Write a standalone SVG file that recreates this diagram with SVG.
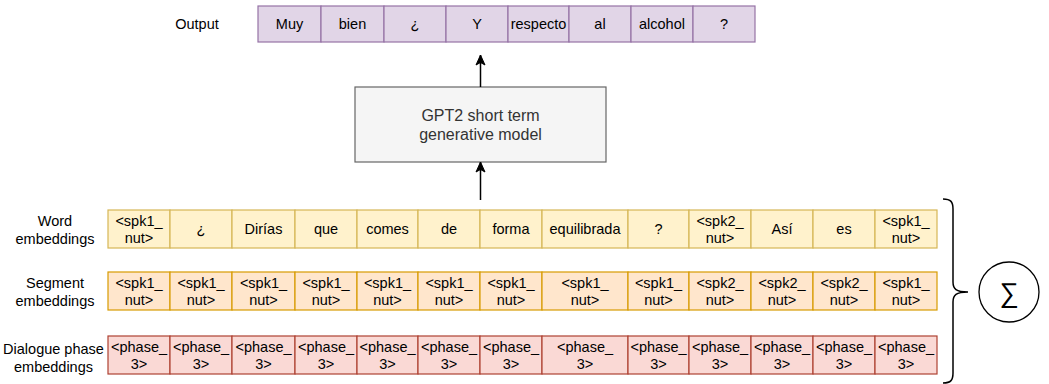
<svg xmlns="http://www.w3.org/2000/svg" width="1049" height="384" viewBox="0 0 1049 384">
<style>
text{font-family:"Liberation Sans",Arial,sans-serif;font-size:14.5px;fill:#000;text-anchor:middle}
.out{fill:#e1d5e7;stroke:#9673a6;stroke-width:1.2}
.w{fill:#fff2cc;stroke:#d6b656;stroke-width:1.2}
.s{fill:#ffe6cc;stroke:#d79b00;stroke-width:1.2}
.d{fill:#fad9d5;stroke:#ae4132;stroke-width:1.2}
.gpt{fill:#f5f5f5;stroke:#666666;stroke-width:1.2}
.gt{font-size:16px;fill:#333333}
.conn{stroke:#000;stroke-width:1.5;fill:none}
.lbl{text-anchor:middle}
</style>
<defs>
<marker id="arr" markerUnits="userSpaceOnUse" markerWidth="12" markerHeight="12" viewBox="0 0 12 12" refX="11" refY="6" orient="auto">
<path d="M1,1.5 L11,6 L1,10.5 L3.5,6 Z" fill="#000" stroke="#000" stroke-width="1"/>
</marker>
</defs>

<g id="output-label"><text x="197" y="29">Output</text></g>
<g id="output">
<rect class="out" x="258" y="6" width="63" height="36"/><text x="289.5" y="29">Muy</text>
<rect class="out" x="321" y="6" width="63" height="36"/><text x="352.5" y="29">bien</text>
<rect class="out" x="384" y="6" width="62" height="36"/><text x="415" y="29">¿</text>
<rect class="out" x="446" y="6" width="62" height="36"/><text x="477" y="29">Y</text>
<rect class="out" x="508" y="6" width="61" height="36"/><text x="538.5" y="29">respecto</text>
<rect class="out" x="569" y="6" width="62" height="36"/><text x="600" y="29">al</text>
<rect class="out" x="631" y="6" width="62" height="36"/><text x="662" y="29">alcohol</text>
<rect class="out" x="693" y="6" width="62" height="36"/><text x="724" y="29">?</text>
</g>

<g id="gpt2">
<rect class="gpt" x="355" y="87" width="251" height="75"/>
<text class="gt" x="480.5" y="121">GPT2 short term</text>
<text class="gt" x="480.5" y="140">generative model</text>
</g>

<g id="connectors">
<line class="conn" x1="480.5" y1="87" x2="480.5" y2="55" marker-end="url(#arr)"/>
<line class="conn" x1="480.5" y1="200" x2="480.5" y2="162" marker-end="url(#arr)"/>
<path class="conn" stroke-width="1.3" d="M943,199 C951,199 953,202 953,209 L953,282 C953,289 956,292 968,292 C956,292 953,295 953,302 L953,373 C953,380 951,383 943,383"/>
</g>

<g id="word-label"><text x="55" y="226">Word</text><text x="55" y="244">embeddings</text></g>
<g id="word-embeddings">
<rect class="w" x="108" y="210" width="62" height="38"/><text x="139" y="225.5">&lt;spk1_</text><text x="139" y="242.5">nut&gt;</text>
<rect class="w" x="170" y="210" width="62" height="38"/><text x="201" y="234">¿</text>
<rect class="w" x="232" y="210" width="63" height="38"/><text x="263.5" y="234">Dirías</text>
<rect class="w" x="295" y="210" width="62" height="38"/><text x="326" y="234">que</text>
<rect class="w" x="357" y="210" width="61" height="38"/><text x="387.5" y="234">comes</text>
<rect class="w" x="418" y="210" width="62" height="38"/><text x="449" y="234">de</text>
<rect class="w" x="480" y="210" width="62" height="38"/><text x="511" y="234">forma</text>
<rect class="w" x="542" y="210" width="86" height="38"/><text x="585" y="234">equilibrada</text>
<rect class="w" x="628" y="210" width="61" height="38"/><text x="658.5" y="234">?</text>
<rect class="w" x="689" y="210" width="62" height="38"/><text x="720" y="225.5">&lt;spk2_</text><text x="720" y="242.5">nut&gt;</text>
<rect class="w" x="751" y="210" width="62" height="38"/><text x="782" y="234">Así</text>
<rect class="w" x="813" y="210" width="62" height="38"/><text x="844" y="234">es</text>
<rect class="w" x="875" y="210" width="62" height="38"/><text x="906" y="225.5">&lt;spk1_</text><text x="906" y="242.5">nut&gt;</text>
</g>

<g id="segment-label"><text x="55" y="288">Segment</text><text x="55" y="306">embeddings</text></g>
<g id="segment-embeddings">
<rect class="s" x="108" y="272" width="62" height="38"/><text x="139" y="287.5">&lt;spk1_</text><text x="139" y="304.5">nut&gt;</text>
<rect class="s" x="170" y="272" width="62" height="38"/><text x="201" y="287.5">&lt;spk1_</text><text x="201" y="304.5">nut&gt;</text>
<rect class="s" x="232" y="272" width="63" height="38"/><text x="263.5" y="287.5">&lt;spk1_</text><text x="263.5" y="304.5">nut&gt;</text>
<rect class="s" x="295" y="272" width="62" height="38"/><text x="326" y="287.5">&lt;spk1_</text><text x="326" y="304.5">nut&gt;</text>
<rect class="s" x="357" y="272" width="61" height="38"/><text x="387.5" y="287.5">&lt;spk1_</text><text x="387.5" y="304.5">nut&gt;</text>
<rect class="s" x="418" y="272" width="62" height="38"/><text x="449" y="287.5">&lt;spk1_</text><text x="449" y="304.5">nut&gt;</text>
<rect class="s" x="480" y="272" width="62" height="38"/><text x="511" y="287.5">&lt;spk1_</text><text x="511" y="304.5">nut&gt;</text>
<rect class="s" x="542" y="272" width="86" height="38"/><text x="585" y="287.5">&lt;spk1_</text><text x="585" y="304.5">nut&gt;</text>
<rect class="s" x="628" y="272" width="61" height="38"/><text x="658.5" y="287.5">&lt;spk1_</text><text x="658.5" y="304.5">nut&gt;</text>
<rect class="s" x="689" y="272" width="62" height="38"/><text x="720" y="287.5">&lt;spk2_</text><text x="720" y="304.5">nut&gt;</text>
<rect class="s" x="751" y="272" width="62" height="38"/><text x="782" y="287.5">&lt;spk2_</text><text x="782" y="304.5">nut&gt;</text>
<rect class="s" x="813" y="272" width="62" height="38"/><text x="844" y="287.5">&lt;spk2_</text><text x="844" y="304.5">nut&gt;</text>
<rect class="s" x="875" y="272" width="62" height="38"/><text x="906" y="287.5">&lt;spk1_</text><text x="906" y="304.5">nut&gt;</text>
</g>

<g id="dialogue-label"><text x="53.5" y="354">Dialogue phase</text><text x="53.5" y="372">embeddings</text></g>
<g id="dialogue-phase-embeddings">
<rect class="d" x="108" y="336" width="62" height="38"/><text x="139" y="351.5">&lt;phase_</text><text x="139" y="368.5">3&gt;</text>
<rect class="d" x="170" y="336" width="62" height="38"/><text x="201" y="351.5">&lt;phase_</text><text x="201" y="368.5">3&gt;</text>
<rect class="d" x="232" y="336" width="63" height="38"/><text x="263.5" y="351.5">&lt;phase_</text><text x="263.5" y="368.5">3&gt;</text>
<rect class="d" x="295" y="336" width="62" height="38"/><text x="326" y="351.5">&lt;phase_</text><text x="326" y="368.5">3&gt;</text>
<rect class="d" x="357" y="336" width="61" height="38"/><text x="387.5" y="351.5">&lt;phase_</text><text x="387.5" y="368.5">3&gt;</text>
<rect class="d" x="418" y="336" width="62" height="38"/><text x="449" y="351.5">&lt;phase_</text><text x="449" y="368.5">3&gt;</text>
<rect class="d" x="480" y="336" width="62" height="38"/><text x="511" y="351.5">&lt;phase_</text><text x="511" y="368.5">3&gt;</text>
<rect class="d" x="542" y="336" width="86" height="38"/><text x="585" y="351.5">&lt;phase_</text><text x="585" y="368.5">3&gt;</text>
<rect class="d" x="628" y="336" width="61" height="38"/><text x="658.5" y="351.5">&lt;phase_</text><text x="658.5" y="368.5">3&gt;</text>
<rect class="d" x="689" y="336" width="62" height="38"/><text x="720" y="351.5">&lt;phase_</text><text x="720" y="368.5">3&gt;</text>
<rect class="d" x="751" y="336" width="62" height="38"/><text x="782" y="351.5">&lt;phase_</text><text x="782" y="368.5">3&gt;</text>
<rect class="d" x="813" y="336" width="62" height="38"/><text x="844" y="351.5">&lt;phase_</text><text x="844" y="368.5">3&gt;</text>
<rect class="d" x="875" y="336" width="62" height="38"/><text x="906" y="351.5">&lt;phase_</text><text x="906" y="368.5">3&gt;</text>
</g>

<g id="sum">
<circle cx="1009" cy="292" r="30" fill="#ffffff" stroke="#000" stroke-width="1.3"/>
<text x="1009" y="302" style="font-size:27px">∑</text>
</g>
</svg>
